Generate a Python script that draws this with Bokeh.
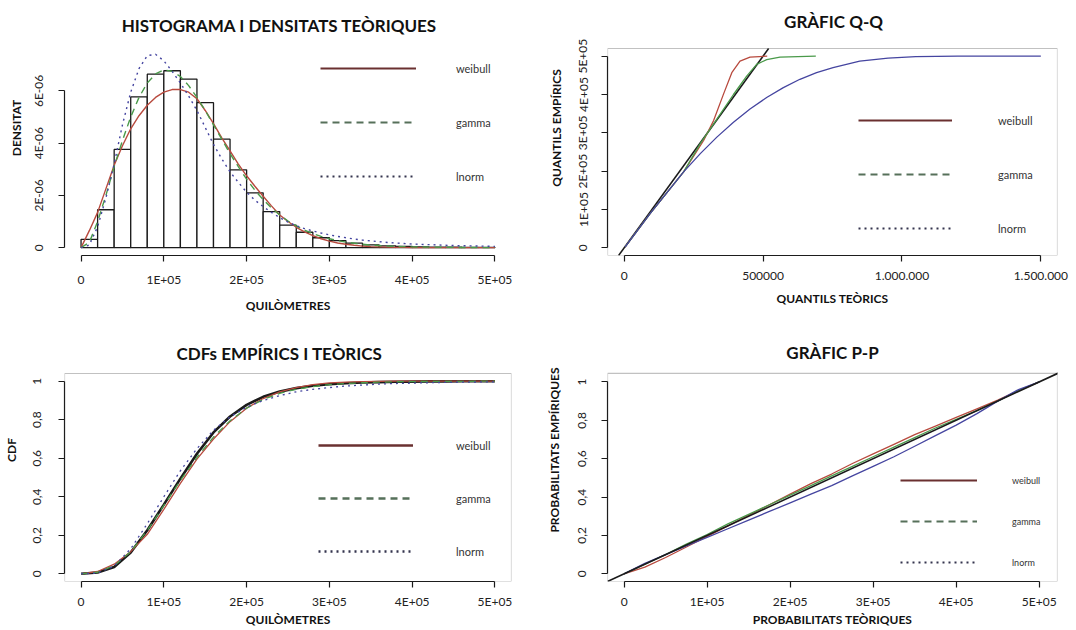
import math
from bokeh.plotting import figure
from bokeh.layouts import gridplot
from bokeh.models import FixedTicker, Range1d, Legend, LegendItem, Slope, Label, BoxAnnotation
from bokeh.embed import file_html
from bokeh.resources import INLINE

FONT = "Lato"

# ---------------- data ----------------
# Panel 1: histogram (bins of 20 000 km) and theoretical densities (units of 1E-06)
hist_edges_km = list(range(0, 500001, 20000))
hist_density_e6 = [0.32, 1.45, 3.76, 5.77, 6.64, 6.77, 6.45, 5.55, 4.15, 2.98,
                   2.10, 1.38, 0.86, 0.59, 0.38, 0.27, 0.17, 0.11, 0.07, 0.05,
                   0.03, 0.02, 0.02, 0.01, 0.01]
dens_km = [i * 10000 for i in range(41)] + [450000, 500000]
dens_weibull_e6 = [0, 0.65, 1.35, 2.25, 3.15, 3.9, 4.55, 5.05, 5.45, 5.75, 5.95, 6.05, 6.05,
                   5.95, 5.7, 5.25, 4.75, 4.2, 3.7, 3.2, 2.75, 2.35, 1.97, 1.6, 1.25, 1.0,
                   0.78, 0.6, 0.46, 0.34, 0.25, 0.18, 0.13, 0.09, 0.06, 0.04, 0.03, 0.02,
                   0.01, 0.01, 0.0, 0.0, 0.0]
dens_gamma_e6 = [0, 0.2, 1.0, 2.0, 3.1, 4.1, 5.0, 5.75, 6.3, 6.65, 6.8, 6.75, 6.55, 6.2,
                 5.75, 5.25, 4.7, 4.15, 3.6, 3.1, 2.62, 2.2, 1.84, 1.52, 1.25, 1.02, 0.83,
                 0.67, 0.54, 0.43, 0.34, 0.27, 0.21, 0.17, 0.13, 0.1, 0.08, 0.06, 0.05,
                 0.04, 0.03, 0.01, 0.0]
dens_lnorm_e6 = [0, 0.1, 0.8, 1.9, 3.2, 4.7, 5.95, 6.85, 7.35, 7.4, 7.15, 6.75, 6.3, 5.8,
                 5.25, 4.6, 3.95, 3.4, 2.9, 2.5, 2.12, 1.82, 1.57, 1.35, 1.15, 0.98, 0.84,
                 0.73, 0.64, 0.56, 0.49, 0.43, 0.38, 0.33, 0.29, 0.26, 0.23, 0.2, 0.18,
                 0.16, 0.14, 0.08, 0.05]

# Panel 2: Q-Q (theoretical quantile, empirical quantile)
qq_weibull_x = [3000, 94000, 214000, 286000, 322000, 357600, 387500, 417000, 453000, 515000]
qq_weibull_y = [2000, 90000, 198000, 280000, 332000, 401000, 457000, 487000, 497500, 500000]
qq_gamma_x = [3000, 94000, 214000, 274000, 333700, 393500, 441000, 477000, 513000, 561000, 690000]
qq_gamma_y = [2000, 90000, 198000, 272000, 336000, 400000, 448000, 478500, 491000, 497500, 500000]
qq_lnorm_x = [3000, 94000, 214000, 274000, 333700, 393500, 453000, 513000, 573000, 632700,
              692600, 752000, 848000, 950000, 1050000, 1200000, 1500000]
qq_lnorm_y = [2000, 90000, 198000, 245800, 288800, 327600, 362000, 392000, 418000, 439700,
              457000, 470000, 487000, 495000, 499000, 500000, 500000]

# Panel 3: CDFs
cdf_km = list(range(0, 500001, 20000))
cdf_empirical = [0, 0.0064, 0.0354, 0.1106, 0.226, 0.359, 0.494, 0.623, 0.734, 0.817, 0.877,
                 0.919, 0.946, 0.964, 0.976, 0.984, 0.989, 0.993, 0.995, 0.997, 0.998,
                 0.999, 0.999, 1.0, 1.0, 1.0]
cdf_weibull = [0, 0.012, 0.05, 0.115, 0.205, 0.335, 0.47, 0.595, 0.70, 0.79, 0.86, 0.91,
               0.945, 0.967, 0.982, 0.991, 0.995, 0.998, 0.999, 1.0, 1.0, 1.0, 1.0, 1.0, 1.0, 1.0]
cdf_gamma = [0, 0.008, 0.042, 0.115, 0.225, 0.355, 0.485, 0.605, 0.71, 0.795, 0.86, 0.905,
             0.937, 0.958, 0.972, 0.982, 0.988, 0.992, 0.995, 0.997, 0.998, 0.999, 0.999,
             0.999, 1.0, 1.0]
cdf_lnorm = [0, 0.004, 0.04, 0.13, 0.26, 0.40, 0.535, 0.65, 0.745, 0.815, 0.865, 0.9, 0.925,
             0.945, 0.958, 0.967, 0.975, 0.98, 0.985, 0.988, 0.99, 0.992, 0.994, 0.995,
             0.996, 0.997]

# Panel 4: P-P
pp_x = list(range(0, 500001, 25000))
pp_weibull = [0, 0.035, 0.085, 0.14, 0.195, 0.25, 0.305, 0.36, 0.415, 0.47, 0.52, 0.575,
              0.625, 0.675, 0.725, 0.77, 0.815, 0.86, 0.905, 0.955, 1.0]
pp_gamma = [0, 0.05, 0.1, 0.155, 0.205, 0.26, 0.31, 0.36, 0.41, 0.46, 0.51, 0.56, 0.61,
            0.66, 0.71, 0.76, 0.805, 0.85, 0.9, 0.955, 1.0]
pp_lnorm = [0, 0.055, 0.1, 0.145, 0.19, 0.235, 0.28, 0.325, 0.37, 0.415, 0.46, 0.51, 0.56,
            0.61, 0.665, 0.72, 0.775, 0.835, 0.9, 0.96, 1.0]

series_names = ["weibull", "gamma", "lnorm"]
curve_colors = ["#b84a3e", "#4a9a4a", "#4545a0"]
legend_colors = ["#6a3030", "#56705a", "#34344e"]
dashes = ["solid", "7 5", "2 4"]

km_ticks = [0, 100000, 200000, 300000, 400000, 500000]
km_labels = {0: "0", 100000: "1E+05", 200000: "2E+05", 300000: "3E+05",
             400000: "4E+05", 500000: "5E+05"}
prob_ticks = [0, 0.2, 0.4, 0.6, 0.8, 1]
prob_labels = {0: "0", 0.2: "0,2", 0.4: "0,4", 0.6: "0,6", 0.8: "0,8", 1: "1"}

INK = "#1a1a1a"


def make_fig(w, h, xr, yr, bl, br, top_px, frame_px, bb, title, title_pos, box=True):
    # the frame is extended upwards over the title area, so that the title (a Label)
    # can be placed freely; the plot box itself is drawn as a BoxAnnotation.
    y0, y1 = yr
    y_top = y1 + top_px * (y1 - y0) / frame_px
    p = figure(width=w, height=h, x_range=Range1d(*xr), y_range=Range1d(y0, y_top),
               output_backend="svg", toolbar_location=None,
               min_border_left=bl, min_border_right=br, min_border_top=0,
               min_border_bottom=bb)
    p.title.visible = False
    p.outline_line_color = None
    if box:
        p.add_layout(BoxAnnotation(left=xr[0], right=xr[1], bottom=y0, top=y1,
                                   fill_color=None, fill_alpha=0,
                                   line_color="#333333", line_width=1.2))
    p.add_layout(Label(x=title_pos[0], y=title_pos[1], x_units="screen", y_units="screen",
                       text=title, text_font=FONT, text_font_size="17px",
                       text_font_style="bold", text_color="#111111",
                       text_align="center", text_baseline="middle"))
    p.xgrid.visible = False
    p.ygrid.visible = False
    for ax in (p.xaxis[0], p.yaxis[0]):
        ax.axis_line_color = INK
        ax.axis_line_width = 1.2
        ax.major_tick_line_color = INK
        ax.major_tick_line_width = 1.2
        ax.major_tick_out = 6
        ax.major_tick_in = 0
        ax.minor_tick_line_color = None
        ax.major_label_text_font = FONT
        ax.major_label_text_font_size = "12px"
        ax.major_label_text_color = "#222222"
        ax.axis_label_text_font = FONT
        ax.axis_label_text_font_size = "12px"
        ax.axis_label_text_font_style = "bold"
        ax.axis_label_text_color = "#111111"
    p.yaxis.major_label_orientation = "vertical"
    return p


def add_legend(p, loc, glyph_w, glyph_h, spacing, standoff, font_size, lw=2):
    items = []
    for name, col, dash in zip(series_names, legend_colors, dashes):
        r = p.line(x=[math.nan], y=[math.nan], line_color=col, line_width=lw, line_dash=dash)
        items.append(LegendItem(label=name, renderers=[r]))
    leg = Legend(items=items, location=loc, glyph_width=glyph_w, glyph_height=glyph_h,
                 spacing=spacing, label_standoff=standoff, padding=0, margin=0,
                 border_line_color=None, background_fill_alpha=0,
                 label_text_font=FONT, label_text_font_size=font_size,
                 label_text_color="#333333", label_height=glyph_h)
    p.add_layout(leg, "center")


# ---------------- panel 1: histogram + densities ----------------
p1 = make_fig(540, 318, (-20000, 520000), (-0.3, 7.75), 63, 29, 45, 212, 61,
              "HISTOGRAMA I DENSITATS TEÒRIQUES", (215, 230), box=False)
p1.quad(left=hist_edges_km[:-1], right=hist_edges_km[1:], bottom=0, top=hist_density_e6,
        fill_color="white", line_color=INK, line_width=1.3)
for vals, col, dash in zip([dens_weibull_e6, dens_gamma_e6, dens_lnorm_e6], curve_colors, dashes):
    p1.line(dens_km, vals, line_color=col, line_width=1.4, line_dash=dash)
p1.xaxis.ticker = FixedTicker(ticks=km_ticks)
p1.xaxis.major_label_overrides = km_labels
p1.xaxis.bounds = (0, 500000)
p1.yaxis.ticker = FixedTicker(ticks=[0, 2, 4, 6])
p1.yaxis.major_label_overrides = {0: "0", 2: "2E-06", 4: "4E-06", 6: "6E-06"}
p1.yaxis.bounds = (0, 6)
p1.xaxis.axis_label = "QUILÒMETRES"
p1.yaxis.axis_label = "DENSITAT"
p1.xaxis.major_label_standoff = 10
p1.xaxis.axis_label_standoff = 8
p1.yaxis.major_label_standoff = 12
add_legend(p1, (256, 69), 96, 20, 34, 40, "11px")

# ---------------- panel 2: Q-Q ----------------
qq_xlim = (-60000, 1560000)
qq_ylim = (-20000, 520000)
p2 = make_fig(536, 318, qq_xlim, qq_ylim, 67, 19, 48, 207, 63,
              "GRÀFIC Q-Q", (226, 234))
# reference line y = x, drawn across the box
p2.line(list(qq_ylim), list(qq_ylim), line_color=INK, line_width=1.5)
for xs, ys, col in zip([qq_weibull_x, qq_gamma_x, qq_lnorm_x], [qq_weibull_y, qq_gamma_y, qq_lnorm_y], curve_colors):
    p2.line(xs, ys, line_color=col, line_width=1.3)
p2.xaxis.ticker = FixedTicker(ticks=[0, 500000, 1000000, 1500000])
p2.xaxis.major_label_overrides = {0: "0", 500000: "500000", 1000000: "1.000.000", 1500000: "1.500.000"}
p2.xaxis.bounds = (0, 1500000)
p2.yaxis.ticker = FixedTicker(ticks=km_ticks)
p2.yaxis.major_label_overrides = km_labels
p2.yaxis.bounds = (0, 500000)
p2.xaxis.axis_label = "QUANTILS TEÒRICS"
p2.yaxis.axis_label = "QUANTILS EMPÍRICS"
p2.xaxis.major_label_standoff = 10
p2.xaxis.axis_label_standoff = 8
p2.yaxis.major_label_standoff = 11
p2.yaxis.axis_label_standoff = 9
add_legend(p2, (251, 17), 94, 20, 34, 46, "11px")

# ---------------- panel 3: CDFs ----------------
p3 = make_fig(540, 311, (-20000, 520000), (-0.04, 1.04), 63, 29, 55, 208, 48,
              "CDFs EMPÍRICS I TEÒRICS", (215, 228))
p3.line(cdf_km, cdf_empirical, line_color=INK, line_width=2.6)
for vals, col, dash in zip([cdf_weibull, cdf_gamma, cdf_lnorm], curve_colors, dashes):
    p3.line(cdf_km, vals, line_color=col, line_width=1.3, line_dash=dash)
p3.xaxis.ticker = FixedTicker(ticks=km_ticks)
p3.xaxis.major_label_overrides = km_labels
p3.xaxis.bounds = (0, 500000)
p3.yaxis.ticker = FixedTicker(ticks=prob_ticks)
p3.yaxis.major_label_overrides = prob_labels
p3.yaxis.bounds = (0, 1)
p3.xaxis.axis_label = "QUILÒMETRES"
p3.yaxis.axis_label = "CDF"
p3.xaxis.major_label_standoff = 6
p3.xaxis.axis_label_standoff = 0
p3.yaxis.major_label_standoff = 17
p3.yaxis.axis_label_standoff = 12
add_legend(p3, (254, 20), 95, 20, 33, 43, "11px", lw=2.5)

# ---------------- panel 4: P-P ----------------
p4 = make_fig(536, 311, (-20000, 522000), (-0.04, 1.045), 67, 19, 55, 209, 47,
              "GRÀFIC P-P", (225, 229))
p4.add_layout(Slope(gradient=1 / 500000, y_intercept=0, line_color=INK, line_width=1.6))
for vals, col in zip([pp_weibull, pp_gamma, pp_lnorm], curve_colors):
    p4.line(pp_x, vals, line_color=col, line_width=1.3)
p4.xaxis.ticker = FixedTicker(ticks=km_ticks)
p4.xaxis.major_label_overrides = km_labels
p4.xaxis.bounds = (0, 500000)
p4.yaxis.ticker = FixedTicker(ticks=prob_ticks)
p4.yaxis.major_label_overrides = prob_labels
p4.yaxis.bounds = (0, 1)
p4.xaxis.axis_label = "PROBABILITATS TEÒRIQUES"
p4.yaxis.axis_label = "PROBABILITATS EMPÍRIQUES"
p4.xaxis.major_label_standoff = 6
p4.xaxis.axis_label_standoff = 0
p4.yaxis.major_label_standoff = 15
p4.yaxis.axis_label_standoff = 14
add_legend(p4, (293, 9), 77, 20, 21, 35, "9px")

grid = gridplot([[p1, p2], [p3, p4]], toolbar_location=None)
open("out.html", "w").write(file_html(grid, INLINE))
